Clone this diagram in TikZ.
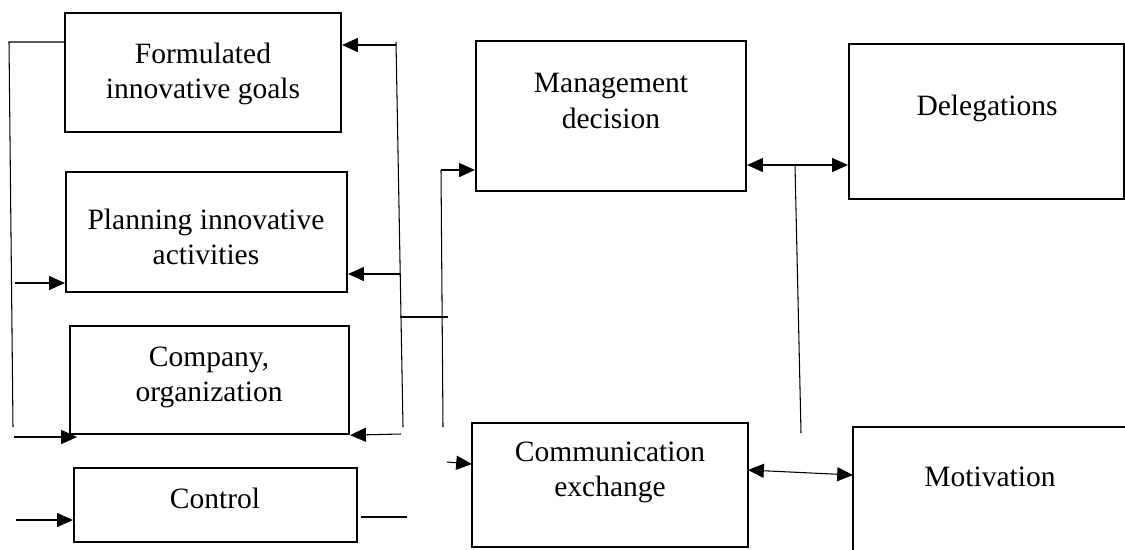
\documentclass[tikz,border=0pt]{standalone}
\usepackage{fontspec}
\setmainfont{Liberation Serif}
\usetikzlibrary{arrows.meta}
\begin{document}
\begin{tikzpicture}[x=0.02cm,y=-0.02cm,
  box/.style={draw,line width=1.3pt,inner sep=0pt},
  lbl/.style={align=center,inner sep=0pt,font=\fontsize{16.8}{20}\selectfont},
  conn/.style={line width=0.6pt},
  arr/.style={conn,-{Triangle[length=9pt,width=8pt]}},
  darr/.style={conn,{Triangle[length=9pt,width=8pt]}-{Triangle[length=9pt,width=8pt]}}]
\useasboundingbox (0,0) rectangle (1125,549);
\clip (0,0) rectangle (1125,549);
% boxes
\node[box,minimum width=5.52cm,minimum height=2.38cm] (fg) at (203,72.5) {};
\node[box,minimum width=5.62cm,minimum height=2.40cm] (pl) at (206.5,232) {};
\node[box,minimum width=5.58cm,minimum height=2.16cm] (co) at (209.5,380) {};
\node[box,minimum width=5.66cm,minimum height=1.48cm] (ct) at (215.5,505) {};
\node[box,minimum width=5.40cm,minimum height=3.00cm] (mg) at (611,116) {};
\node[box,minimum width=5.52cm,minimum height=2.48cm] (cm) at (610,485) {};
\node[box,minimum width=5.50cm,minimum height=3.10cm] (dl) at (986.5,121.5) {};
\node[box,minimum width=5.48cm,minimum height=3.46cm] (mt) at (990,513.5) {};
% labels
\node[lbl] (tfg) at (203,74) {Formulated\\innovative goals};
\node[lbl] (tpl) at (206,237) {Planning innovative\\activities};
\node[lbl] (tco) at (209,377) {Company,\\organization};
\node[lbl] (tct) at (215,498) {Control};
\node[lbl] (tmg) at (611,101) {Management\\decision};
\node[lbl] (tcm) at (610,472) {Communication\\exchange};
\node[lbl] (tdl) at (987,108) {Delegations};
\node[lbl] (tmt) at (990,477) {Motivation};
% free ends
\coordinate (L1) at (9,42);
\coordinate (L2) at (13,427);
\coordinate (Lp) at (15,283);
\coordinate (Lc) at (14,437);
\coordinate (Lt) at (16,520);
\coordinate (R1) at (396,42);
\coordinate (R2) at (403,427);
\coordinate (Rf) at (396,45);
\coordinate (Rp) at (400,274);
\coordinate (Rc) at (401,434);
\coordinate (T1) at (400,317);
\coordinate (T2) at (448,317);
\coordinate (M1) at (441,170);
\coordinate (M2) at (443,427);
\coordinate (S1) at (447,462);
\coordinate (K1) at (361,517);
\coordinate (K2) at (407,517);
\coordinate (V1) at (795,165);
\coordinate (V2) at (801,433);
% left loop
\draw[conn] (L1 -| fg.west) -- (L1) -- (L2);
\draw[arr] (Lp) -- (Lp -| pl.west);
\draw[arr] (Lc) -- (77,437);
\draw[arr] (Lt) -- (Lt -| ct.west);
\draw[conn] (K1) -- (K2);
% right bus of left column
\draw[conn] (R1) -- (R2);
\draw[arr] (Rf) -- (Rf -| fg.east);
\draw[arr] (Rp) -- (Rp -| pl.east);
\draw[arr] (Rc) -- (co.south east);
\draw[conn] (T1) -- (T2);
% middle bus
\draw[conn] (M2) -- (M1);
\draw[arr] (M1) -- (M1 -| mg.west);
\draw[arr] (S1) -- (472,464);
% right side
\draw[darr] (V1 -| mg.east) -- (V1 -| dl.west);
\draw[conn] (V1) -- (V2);
\draw[darr] (748,470) -- (853,475);
\end{tikzpicture}
\end{document}
